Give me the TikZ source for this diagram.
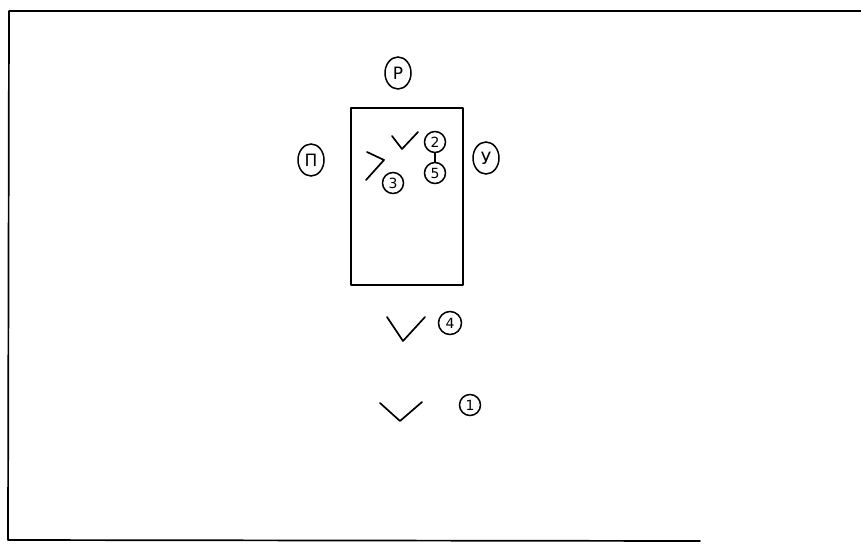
\documentclass[tikz,border=0pt]{standalone}
\usepackage{fontspec}
\setmainfont{DejaVu Sans}
\usetikzlibrary{shapes.geometric}
\tikzset{
  hand/.style={line width=1.7pt, line cap=round, line join=round},
  biglabel/.style={draw, ellipse, line width=1.5pt, inner sep=0pt, minimum width=26pt, minimum height=32pt, font=\fontsize{17}{17}\selectfont},
  numlabel/.style={draw, circle, line width=1.5pt, inner sep=0pt, minimum size=21pt, font=\fontsize{14}{14}\selectfont},
}
\begin{document}
\begin{tikzpicture}[x=1pt,y=-1pt]
\useasboundingbox (0,0) rectangle (861,549);
% frame
\coordinate (ftr) at (861,11);
\coordinate (ftl) at (9,11);
\coordinate (fbl) at (8,540);
\coordinate (fbr) at (700,541);
\draw[hand] (ftr) -- (ftl) -- (fbl) -- (fbr);
% box
\node[draw, hand, minimum width=112pt, minimum height=177pt, inner sep=0pt] (box) at (407,196.5) {};
% outer labels
\node[biglabel] (R) at (398,73) {Р};
\node[biglabel] (P) at (311,160) {П};
\node[biglabel] (U) at (486,158) {У};
% inner marks
\coordinate (a1) at (367,152);
\coordinate (a2) at (384,160);
\coordinate (a3) at (366,180);
\draw[hand] (a1) -- (a2) -- (a3);
\coordinate (b1) at (392,136);
\coordinate (b2) at (402,149);
\coordinate (b3) at (418,132);
\draw[hand] (b1) -- (b2) -- (b3);
\node[numlabel] (n2) at (435,142) {2};
\node[numlabel] (n5) at (435,173) {5};
\draw[hand] (n2) -- (n5);
\node[numlabel] (n3) at (393,183) {3};
% lower marks
\coordinate (c1) at (387,317);
\coordinate (c2) at (403,341);
\coordinate (c3) at (425,317);
\draw[hand] (c1) -- (c2) -- (c3);
\node[numlabel, minimum size=23pt] (n4) at (450,323) {4};
\coordinate (d1) at (380,403);
\coordinate (d2) at (400,421);
\coordinate (d3) at (422,402);
\draw[hand] (d1) -- (d2) -- (d3);
\node[numlabel] (n1) at (470,405) {1};
\end{tikzpicture}
\end{document}
